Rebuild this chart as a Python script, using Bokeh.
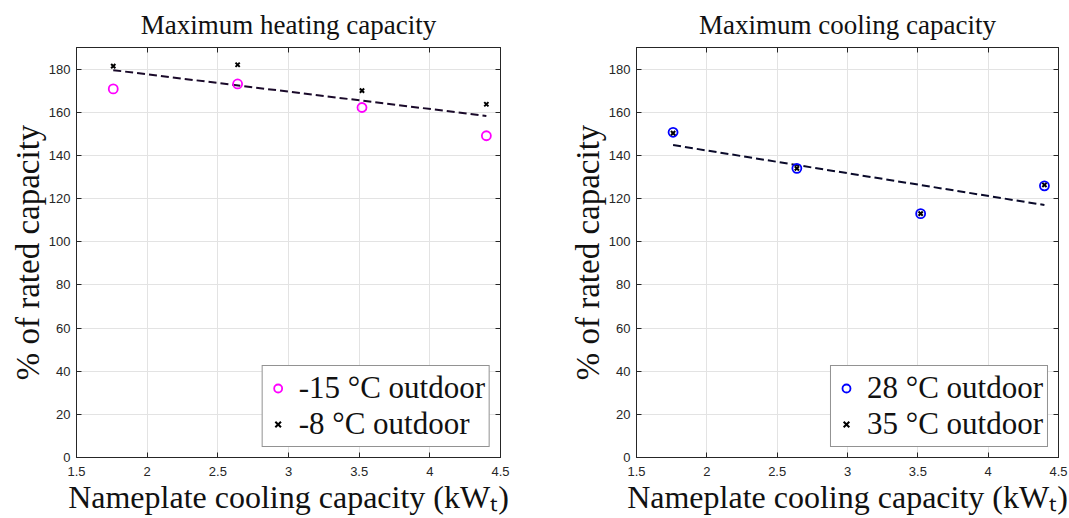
from bokeh.plotting import figure
from bokeh.layouts import row
from bokeh.models import Range1d, LinearAxis, PrintfTickFormatter, FixedTicker, Legend, LegendItem
from bokeh.embed import file_html
from bokeh.resources import INLINE

# ---- data ----
size_kw = [1.76, 2.64, 3.52, 4.40]
heat_m15 = [170.8, 173.1, 162.2, 149.1]
heat_m8 = [181.4, 182.0, 170.0, 163.7]
heat_trend_x = [1.76, 4.40]
heat_trend_y = [179.5, 158.3]
cool_28 = [150.7, 134.0, 113.0, 125.9]
cool_35 = [150.3, 134.0, 113.0, 126.3]
cool_trend_x = [1.76, 4.40]
cool_trend_y = [144.8, 117.0]
x_ticks = [1.5, 2, 2.5, 3, 3.5, 4, 4.5]
y_ticks = [0, 20, 40, 60, 80, 100, 120, 140, 160, 180]

SERIF = "Liberation Serif"
SANS = "Liberation Sans"
AX = "#262626"
GRID = "#e3e3e3"


def style_axis(ax, show_labels=True):
    ax.axis_line_color = AX
    ax.axis_line_width = 1
    ax.major_tick_line_color = AX
    ax.major_tick_in = 5
    ax.major_tick_out = 0
    ax.minor_tick_line_color = None
    ax.major_label_text_font = SANS
    if show_labels:
        ax.major_label_text_color = AX
        ax.major_label_text_font_size = "13px"
        ax.major_label_standoff = 6
    else:
        ax.major_label_text_color = None
        ax.major_label_text_font_size = "1px"
        ax.major_label_standoff = 0
    ax.axis_label_text_font = SERIF
    ax.axis_label_text_font_style = "normal"
    ax.axis_label_text_font_size = "32px"
    ax.axis_label_text_color = "#111111"


def make_fig(title, width, bl, br):
    p = figure(width=width, height=518, output_backend="svg", toolbar_location=None,
               x_range=Range1d(1.5, 4.5), y_range=Range1d(0, 190),
               min_border_left=bl, min_border_right=br, min_border_top=47, min_border_bottom=61,
               title=title)
    p.title.text_font = SERIF
    p.title.text_font_style = "normal"
    p.title.text_font_size = "27px"
    p.title.align = "center"
    p.title.text_color = "#111111"
    p.title.standoff = 15
    p.xaxis.ticker = FixedTicker(ticks=x_ticks)
    p.yaxis.ticker = FixedTicker(ticks=y_ticks)
    p.xaxis.formatter = PrintfTickFormatter(format="%g")
    p.yaxis.formatter = PrintfTickFormatter(format="%g")
    p.xgrid.ticker = FixedTicker(ticks=x_ticks)
    p.ygrid.ticker = FixedTicker(ticks=y_ticks)
    p.xgrid.grid_line_color = GRID
    p.ygrid.grid_line_color = GRID
    p.xaxis.axis_label = "Nameplate cooling capacity (kWₜ)"
    p.yaxis.axis_label = "% of rated capacity"
    style_axis(p.xaxis[0])
    style_axis(p.yaxis[0])
    p.xaxis.major_label_standoff = 9
    p.xaxis.axis_label_standoff = 0
    p.yaxis.axis_label_standoff = 0
    p.yaxis.axis_label_text_font_size = "33px"
    top = LinearAxis(ticker=FixedTicker(ticks=x_ticks))
    right = LinearAxis(ticker=FixedTicker(ticks=y_ticks))
    style_axis(top, False)
    style_axis(right, False)
    p.add_layout(top, "above")
    p.add_layout(right, "right")
    p.outline_line_color = AX
    p.background_fill_color = "white"
    p.border_fill_color = "white"
    return p


# ---- heating ----
p1 = make_fig("Maximum heating capacity", 555, 76, 55)
p1.line(heat_trend_x, heat_trend_y, line_color="#1a0a2a", line_width=2, line_dash="8 4")
r1 = p1.scatter(size_kw, heat_m15, marker="circle", size=9, fill_color=None,
                line_color="#ff00ff", line_width=1.8)
r2 = p1.scatter(size_kw, heat_m8, marker="x", size=6, line_color="black", line_width=2)
leg1 = Legend(items=[LegendItem(label="-15 °C outdoor", renderers=[r1]),
                     LegendItem(label="-8 °C outdoor", renderers=[r2])],
              location="bottom_right")
p1.add_layout(leg1)

# ---- cooling ----
p2 = make_fig("Maximum cooling capacity", 514, 81, 11)
p2.line(cool_trend_x, cool_trend_y, line_color="#0a0a2a", line_width=2, line_dash="8 4")
r3 = p2.scatter(size_kw, cool_28, marker="circle", size=9, fill_color=None,
                line_color="#0000ff", line_width=1.8)
r4 = p2.scatter(size_kw, cool_35, marker="x", size=6, line_color="black", line_width=2)
leg2 = Legend(items=[LegendItem(label="28 °C outdoor", renderers=[r3]),
                     LegendItem(label="35 °C outdoor", renderers=[r4])],
              location="bottom_right")
p2.add_layout(leg2)

for lg in (leg1, leg2):
    lg.label_text_font = SERIF
    lg.label_text_font_size = "31px"
    lg.label_text_color = "#111111"
    lg.border_line_color = AX
    lg.border_line_width = 1
    lg.background_fill_alpha = 1
    lg.padding = 4
    lg.spacing = 0
    lg.margin = 10
    lg.glyph_width = 22
    lg.glyph_height = 20
    lg.label_standoff = 10
    lg.label_height = 32

layout = row(p1, p2)
open("out.html", "w").write(file_html(layout, INLINE))
